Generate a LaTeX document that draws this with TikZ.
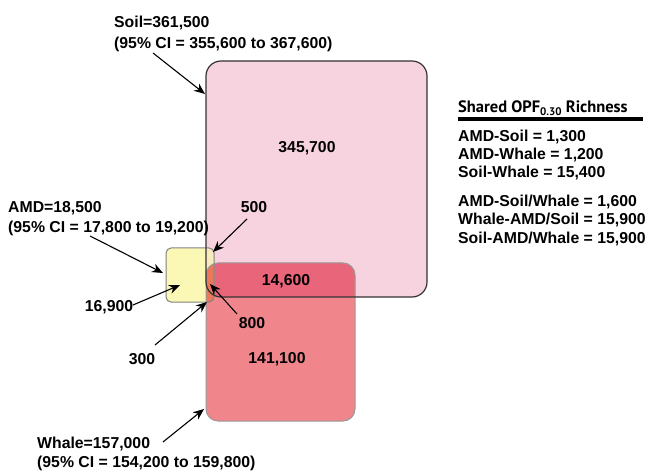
\documentclass[tikz,border=0pt]{standalone}
\usepackage{fontspec}
\setmainfont{Liberation Sans}
\newfontfamily\titlefont{PT Sans}
\usetikzlibrary{arrows.meta}
\definecolor{soilpink}{RGB}{247,211,223}
\definecolor{whalered}{RGB}{240,134,139}
\definecolor{bothred}{RGB}{233,101,122}
\definecolor{amdyellow}{RGB}{251,247,181}
\definecolor{amdsoil}{RGB}{246,234,190}
\definecolor{amdwhale}{RGB}{236,120,92}
\begin{document}
\begin{tikzpicture}[x=1bp,y=-1bp,
  lbl/.style={font=\fontsize{15.8bp}{19bp}\selectfont\bfseries, inner sep=0pt, anchor=base west},
  num/.style={font=\fontsize{15.8bp}{19bp}\selectfont\bfseries, inner sep=0pt, anchor=base},
  ttl/.style={font=\titlefont\fontsize{16.5bp}{18bp}\selectfont\bfseries, inner sep=0pt, anchor=base west},
  arr/.style={-{Stealth[length=11bp,width=9bp]}, line width=1.1bp, black},
  soilborder/.style={draw=black!80, line width=1.2bp, rounded corners=15bp},
  whaleborder/.style={draw=black!40, line width=1bp, rounded corners=12bp},
  amdborder/.style={draw=black!50, line width=1bp, rounded corners=5bp}]
\useasboundingbox (0,0) rectangle (652,472);
% fills
\fill[soilpink, rounded corners=15bp] (206,61) rectangle (427,297);
\fill[whalered, rounded corners=12bp] (206,263) rectangle (355,421);
\begin{scope}
  \clip[rounded corners=15bp] (206,61) rectangle (427,297);
  \fill[bothred, rounded corners=12bp] (206,263) rectangle (355,421);
\end{scope}
\fill[amdyellow, rounded corners=5bp] (166,248) rectangle (214,302);
\begin{scope}
  \clip[rounded corners=5bp] (166,248) rectangle (214,302);
  \fill[amdsoil, rounded corners=15bp] (206,61) rectangle (427,297);
  \fill[amdwhale, rounded corners=12bp] (206,263) rectangle (355,421);
\end{scope}
% borders
\draw[amdborder] (166,248) rectangle (214,302);
\draw[whaleborder] (206,263) rectangle (355,421);
\draw[soilborder] (206,61) rectangle (427,297);

% labels
\node[lbl] (soilA) at (114,27.5) {Soil=361,500};
\node[lbl] (soilB) at (114,48.5) {(95\% CI = 355,600 to 367,600)};
\node[lbl] (amdA) at (8,212.5) {AMD=18,500};
\node[lbl] (amdB) at (8,232.5) {(95\% CI = 17,800 to 19,200)};
\node[lbl] (whaleA) at (37,448.5) {Whale=157,000};
\node[lbl] (whaleB) at (37,467.5) {(95\% CI = 154,200 to 159,800)};

\node[num] (n345) at (307,152.5) {345,700};
\node[num] (n500) at (254,212.5) {500};
\node[num] (n169) at (109,311.5) {16,900};
\node[num] (n146) at (286,285.5) {14,600};
\node[num] (n800) at (252,328.5) {800};
\node[num] (n300) at (142,364.5) {300};
\node[num] (n141) at (277,363.5) {141,100};

% legend
\node[ttl] (ttl) at (458,112.5) {Shared OPF\raisebox{-0.35ex}{\fontsize{11bp}{12bp}\selectfont 0.30} Richness};
\coordinate (ruleL) at (458,119);
\coordinate (ruleR) at (643,119);
\draw[line width=3.3bp] (ruleL) -- (ruleR);
\node[lbl] (l1) at (458,141.5) {AMD-Soil = 1,300};
\node[lbl] (l2) at (458,159.5) {AMD-Whale = 1,200};
\node[lbl] (l3) at (458,177.5) {Soil-Whale = 15,400};
\node[lbl] (l4) at (458,206.5) {AMD-Soil/Whale = 1,600};
\node[lbl] (l5) at (458,225) {Whale-AMD/Soil = 15,900};
\node[lbl] (l6) at (458,243.5) {Soil-AMD/Whale = 15,900};

% arrows
\coordinate (soilT) at (153,53);   \coordinate (soilH) at (205,94);
\coordinate (amdT) at (90,236);    \coordinate (amdH) at (163,273);
\coordinate (fiveT) at (247,219);  \coordinate (fiveH) at (213,252);
\coordinate (sixT) at (133,305);   \coordinate (sixH) at (180,285);
\coordinate (eightT) at (237,314); \coordinate (eightH) at (210,284);
\coordinate (threeT) at (155,345); \coordinate (threeH) at (207,302);
\coordinate (whaleT) at (163,442); \coordinate (whaleH) at (204,409);
\draw[arr] (soilT) -- (soilH);
\draw[arr] (amdT) -- (amdH);
\draw[arr] (fiveT) -- (fiveH);
\draw[arr] (sixT) -- (sixH);
\draw[arr] (eightT) -- (eightH);
\draw[arr] (threeT) -- (threeH);
\draw[arr] (whaleT) -- (whaleH);
\end{tikzpicture}
\end{document}
